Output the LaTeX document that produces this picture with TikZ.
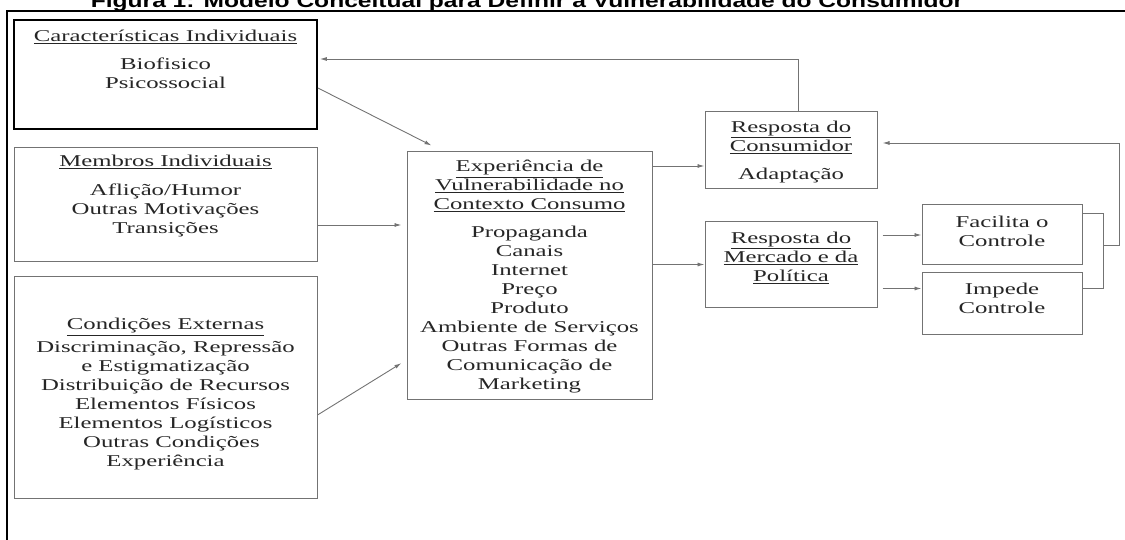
\documentclass[tikz,border=0pt]{standalone}
\usepackage{fontspec}
\setmainfont{Liberation Serif}[FakeStretch=1.5]
\newfontfamily\titulofont{Liberation Sans}[FakeStretch=1.3]
\usetikzlibrary{positioning,arrows.meta}

\begin{document}
\begin{tikzpicture}[x=1pt, y=-1pt, >={Latex[length=7pt,width=4pt]},
    caixa/.style={draw=black!55, line width=1pt, inner sep=0pt},
    texto/.style={align=center, inner sep=0pt, text=black!85, font=\fontsize{16.5}{19}\selectfont},
    seta/.style={->, draw=black!55, line width=0.9pt},
    linha/.style={draw=black!55, line width=0.9pt}]
    \useasboundingbox (0,0) rectangle (1125,540);

    % titulo e moldura
    \node[anchor=base, inner sep=0pt, font=\titulofont\bfseries\fontsize{18.9}{20}\selectfont] (titulo) at (527,8)
        {Figura 1: Modelo Conceitual para Definir a Vulnerabilidade do Consumidor};
    \draw[line width=2pt] (7,540) -- (7,11) -- (1125,11);

    % caixas da esquerda
    \node[caixa, draw=black, line width=1.8pt, minimum width=303, minimum height=109] (carac) at (165.5,74.5) {};
    \node[caixa, minimum width=303, minimum height=114] (membros) at (165.5,205) {};
    \node[caixa, minimum width=303, minimum height=221] (cond) at (165.5,387.5) {};
    \node[texto] (caracT) at (165.5,59.5) {\underline{Características Individuais}\\[9pt]Biofisico\\Psicossocial};
    \node[texto] (membrosT) at (165.5,196.5) {\underline{Membros Individuais}\\[10pt]Aflição/Humor\\Outras Motivações\\Transições};
    \node[texto] (condT) at (165.5,394.5) {\underline{Condições Externas}\\[4pt]Discriminação, Repressão\\e Estigmatização\\
        Distribuição de Recursos\\Elementos Físicos\\Elementos Logísticos\\\hspace*{12pt}Outras Condições\\Experiência};

    % caixa central
    \node[caixa, minimum width=245, minimum height=247] (exper) at (529.5,275.5) {};
    \node[texto] (experT) at (529.5,277) {\underline{Experiência de}\\\underline{Vulnerabilidade no}\\\underline{Contexto Consumo}\\[9pt]
        Propaganda\\Canais\\Internet\\Preço\\Produto\\Ambiente de Serviços\\Outras Formas de\\Comunicação de\\Marketing};

    % respostas
    \node[caixa, minimum width=172, minimum height=77] (consum) at (791,150.5) {};
    \node[caixa, minimum width=172, minimum height=85] (mercado) at (791,264.5) {};
    \node[caixa, minimum width=160, minimum height=60] (facil) at (1002,235) {};
    \node[caixa, minimum width=160, minimum height=61] (impede) at (1002,303.5) {};
    \node[texto] (consumT) at (791,152) {\underline{Resposta do}\\\underline{Consumidor}\\[9pt]Adaptação};
    \node[texto] (mercadoT) at (791,258) {\underline{Resposta do}\\\underline{Mercado e da}\\\underline{Política}};
    \node[texto] (facilT) at (1002,231) {Facilita o\\Controle};
    \node[texto] (impedeT) at (1002,298.5) {Impede\\Controle};

    % setas
    \coordinate (cs) at ([yshift=-15.5pt]consum.west);
    \coordinate (ip) at ([yshift=15pt]impede.west);
    \coordinate (colchete) at (1103,245);
    \draw[seta] ([yshift=-13.5pt]carac.east) -- ([xshift=25pt,yshift=6pt]exper.north west);
    \draw[seta, shorten >=5pt] ([yshift=-20pt]membros.east) -- (exper.west |- 0,225);
    \draw[seta, shorten >=6pt] ([yshift=-27.5pt]cond.east) -- ([yshift=-84.5pt]exper.west);
    \draw[seta] (exper.east |- cs) -- (cs);
    \draw[seta] (exper.east |- mercado.west) -- (mercado.west);
    \draw[seta, shorten <=5pt] (mercado.east |- facil.west) -- (facil.west);
    \draw[seta, shorten <=5pt] (mercado.east |- ip) -- (ip);
    \draw[linha] ([yshift=22pt]facil.east) -- ++(21,0) |- ([yshift=15pt]impede.east);
    \draw[seta, shorten >=5pt] (colchete) -- ++(16,0) |- ([yshift=7.5pt]consum.east);
    \draw[seta, shorten >=2pt] ([xshift=7pt]consum.north) |- ([yshift=15.5pt]carac.east);
\end{tikzpicture}
\end{document}
